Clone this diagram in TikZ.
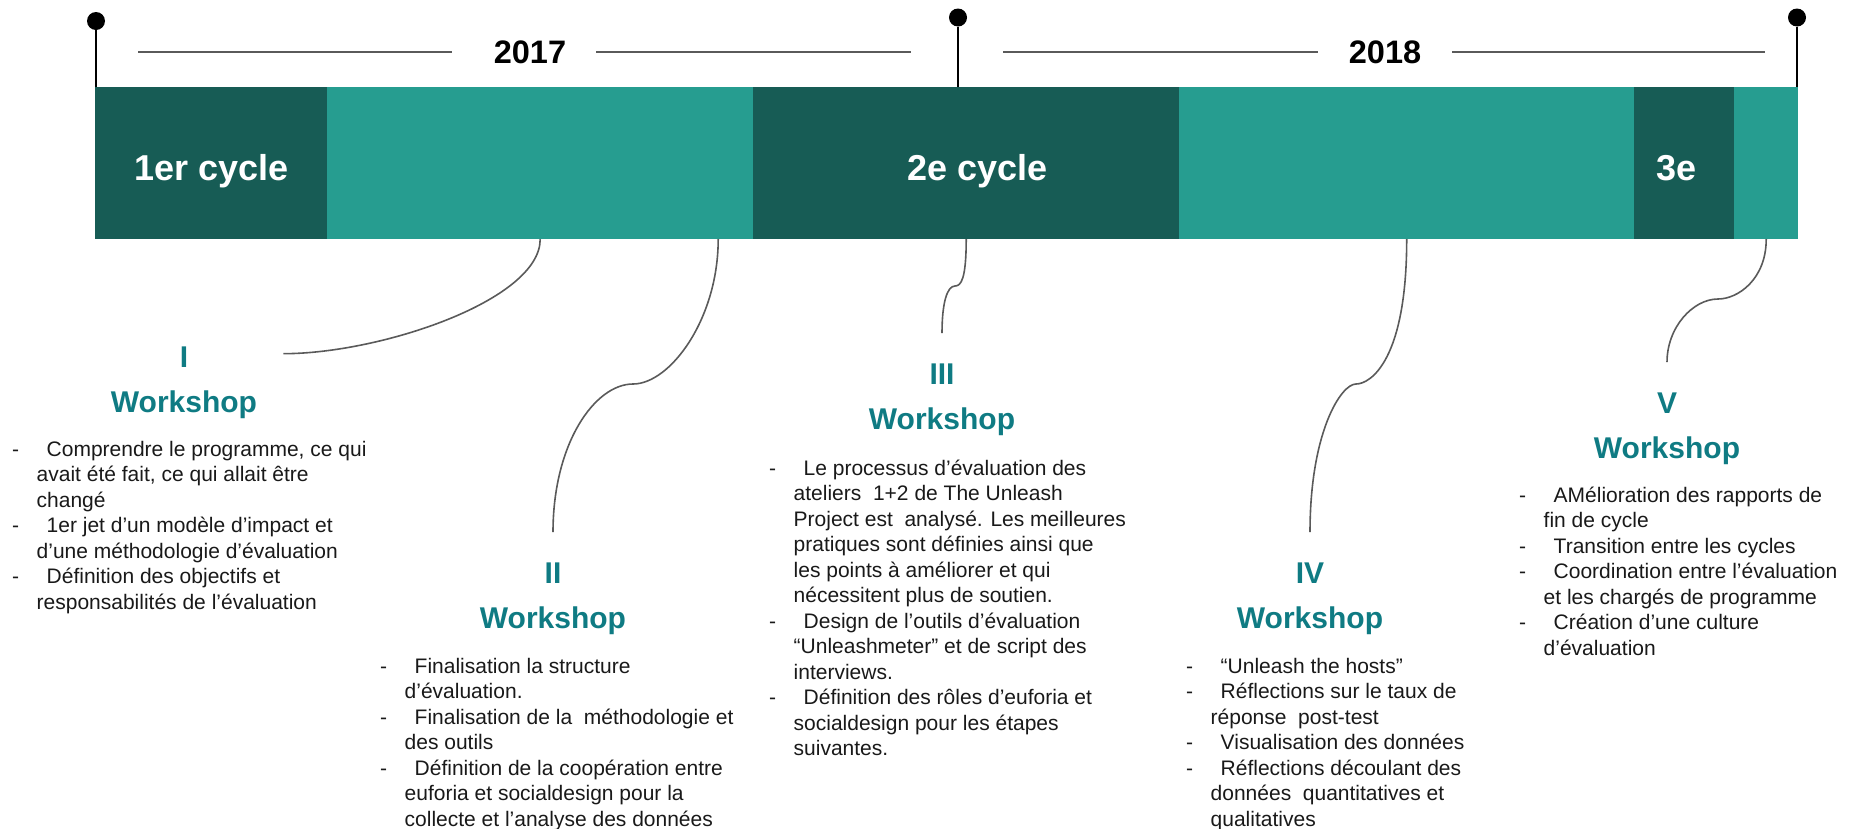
\documentclass[tikz,border=0pt]{standalone}
\usepackage{fontspec}
\setmainfont{Liberation Sans}
\usetikzlibrary{matrix}
\definecolor{cycledark}{HTML}{175C55}
\definecolor{cyclelight}{HTML}{269D90}
\definecolor{wteal}{HTML}{0F7B83}
\definecolor{linegray}{HTML}{5A5A5A}
\tikzset{timeline bar/.style={
    matrix of nodes,
    nodes in empty cells,
    column sep=0pt, inner sep=0pt,
    nodes={minimum height=152pt,
      anchor=center,
      text height=34pt, text depth=0pt,
      inner sep=0pt, outer sep=0pt,
      text=white,
      font=\bfseries\fontsize{36}{40}\selectfont
    },
  },
  dark seg/.style={fill=cycledark, minimum width=#1pt},
  light seg/.style={fill=cyclelight, minimum width=#1pt},
  pin dot/.style={circle, fill=black, minimum size=18pt, inner sep=0pt},
  pin line/.style={line width=2pt},
  year/.style={font=\bfseries\fontsize{32.5}{36}\selectfont, inner sep=0pt},
  year line/.style={draw=linegray, line width=2.2pt},
  roman/.style={text=wteal, font=\bfseries\fontsize{30}{36}\selectfont, inner sep=0pt, anchor=base},
  link/.style={draw=linegray, line width=1.6pt},
  notes/.style={align=left, anchor=north west, inner sep=0pt, text=black!90,
    font=\fontsize{21}{25.5}\selectfont}
}
\newcommand\itemdash{\makebox[34.5pt][l]{-}}
\newcommand\itemcont{\hspace*{24.5pt}}

\begin{document}
\begin{tikzpicture}[x=1pt,y=-1pt]
\useasboundingbox (0,0) rectangle (1849,828);
\matrix (bar) [timeline bar, anchor=north west] at (95,87)
{
|[dark seg=232]| 1er cycle & |[light seg=426]| & |[dark seg=426]| \hspace*{22pt}2e cycle & |[light seg=455]| & |[dark seg=100]| 3e\hspace*{16pt} & |[light seg=64]| \\
};
\node[pin dot] (p1) at (96,21) {};
\node[pin dot] (p2) at (958,17.5) {};
\node[pin dot] (p3) at (1797,17.5) {};
\foreach \p in {p1,p2,p3}
  \draw[pin line] (\p) -- (\p |- bar.north);
\node[year] (y17) at (530,52) {2017};
\node[year] (y18) at (1385,52) {2018};
\draw[year line] ([xshift=-42pt]y17.west) -- ([xshift=-356pt]y17.west);
\draw[year line] ([xshift=30pt]y17.east) -- ([xshift=345pt]y17.east);
\draw[year line] ([xshift=-31pt]y18.west) -- ([xshift=-346pt]y18.west);
\draw[year line] ([xshift=31pt]y18.east) -- ([xshift=344pt]y18.east);

\node[roman] (n1) at (184,367) {I};
\node[roman] (w1) at ([yshift=-45pt]n1.base) {Workshop};
\node[roman] (n2) at (553,583) {II};
\node[roman] (w2) at ([yshift=-45pt]n2.base) {Workshop};
\node[roman] (n3) at (942,384) {III};
\node[roman] (w3) at ([yshift=-45pt]n3.base) {Workshop};
\node[roman] (n4) at (1310,583) {IV};
\node[roman] (w4) at ([yshift=-45pt]n4.base) {Workshop};
\node[roman] (n5) at (1667,413) {V};
\node[roman] (w5) at ([yshift=-45pt]n5.base) {Workshop};

\node[notes] (b1) at (12,438) {\strut\itemdash Comprendre le programme, ce qui\\ \itemcont avait été fait, ce qui allait être\\ \itemcont changé\\ \itemdash 1er jet d’un modèle d’impact et\\ \itemcont d’une méthodologie d’évaluation\\ \itemdash Définition des objectifs et\\ \itemcont responsabilités de l’évaluation};
\node[notes] (b2) at (380,655) {\strut\itemdash Finalisation la structure\\ \itemcont d’évaluation.\\ \itemdash Finalisation de la\ \ méthodologie et\\ \itemcont des outils\\ \itemdash Définition de la coopération entre\\ \itemcont euforia et socialdesign pour la\\ \itemcont collecte et l’analyse des données};
\node[notes] (b3) at (769,457) {\strut\itemdash Le processus d’évaluation des\\ \itemcont ateliers\ \ 1+2 de The Unleash\\ \itemcont Project est\ \ analysé. Les meilleures\\ \itemcont pratiques sont définies ainsi que\\ \itemcont les points à améliorer et qui\\ \itemcont nécessitent plus de soutien.\\ \itemdash Design de l’outils d’évaluation\\ \itemcont “Unleashmeter” et de script des\\ \itemcont interviews.\\ \itemdash Définition des rôles d’euforia et\\ \itemcont socialdesign pour les étapes\\ \itemcont suivantes.};
\node[notes] (b4) at (1186,655) {\strut\itemdash “Unleash the hosts”\\ \itemdash Réflections sur le taux de\\ \itemcont réponse\ \ post-test\\ \itemdash Visualisation des données\\ \itemdash Réflections découlant des\\ \itemcont données\ \ quantitatives et\\ \itemcont qualitatives};
\node[notes] (b5) at (1519,484) {\strut\itemdash AMélioration des rapports de\\ \itemcont fin de cycle\\ \itemdash Transition entre les cycles\\ \itemdash Coordination entre l’évaluation\\ \itemcont et les chargés de programme\\ \itemdash Création d’une culture\\ \itemcont d’évaluation};

\coordinate (k2) at (633,384);
\coordinate (k3) at (955,286);
\coordinate (k4) at (1356,384);
\coordinate (k5) at (1718,299);
\draw[link] (bar-1-2.south) .. controls +(0,61) and +(97,0) .. ([xshift=95pt,yshift=3pt]n1.east);
\draw[link] ([xshift=178pt]bar-1-2.south) .. controls +(0,80) and +(37,0) .. (k2) .. controls +(-38,0) and +(0,-89) .. ([yshift=30pt]n2.north);
\draw[link] (bar-1-3.south) .. controls +(0,40) and +(6,0) .. (k3) .. controls +(-8,0) and +(0,-30) .. ([yshift=30pt]n3.north);
\draw[link] (bar-1-4.south) .. controls +(0,120) and +(15,0) .. (k4) .. controls +(-15,0) and +(0,-100) .. ([yshift=30pt]n4.north);
\draw[link] (bar-1-6.south) .. controls +(0,40) and +(20,0) .. (k5) .. controls +(-25,0) and +(0,-35) .. ([yshift=30pt]n5.north);
\end{tikzpicture}
\end{document}
